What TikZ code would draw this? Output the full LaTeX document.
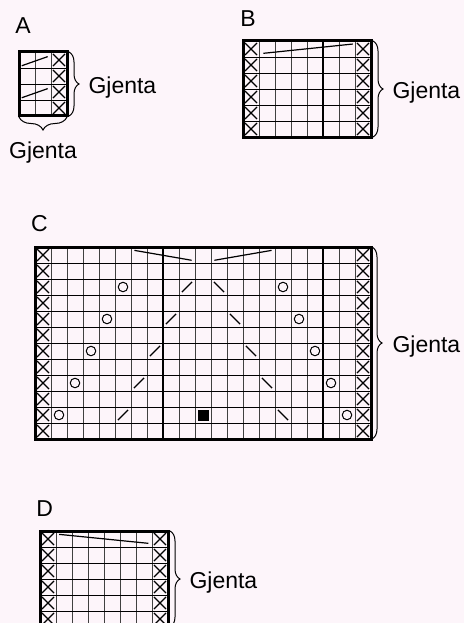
\documentclass[tikz,border=0pt]{standalone}
\usepackage{fontspec}
\setmainfont{Liberation Sans}
\usetikzlibrary{shapes.misc,decorations.pathreplacing}
\definecolor{paper}{RGB}{253,245,250}

\begin{document}
\begin{tikzpicture}
[x=1pt,y=-1pt,
every node/.style={inner sep=0pt,font=\fontsize{23}{27}\selectfont},
colline/.style={black!75,line width=0.9pt},
rowline/.style={black,line width=0.9pt},
repeatline/.style={black,line width=1.7pt},
chartframe/.style={black,line width=3pt},
purl/.style={cross out,draw,line width=1.1pt,minimum size=11pt},
yarnover/.style={circle,draw,line width=1pt,minimum size=9.5pt},
nostitch/.style={rectangle,fill=black,minimum size=11pt},
dec/.style={line width=1.2pt},
cable/.style={line width=1.2pt},
repeatbrace/.style={decorate,decoration={brace,amplitude=10pt,raise=2pt},line width=1pt},
repeattext/.style={anchor=west,xshift=21pt,yshift=-3.6pt}]

\fill[paper] (0,0) rectangle (464,623);
\useasboundingbox (0,0) rectangle (464,623);

% chart titles
\node (labelA) at (23,26) {A};
\node (labelB) at (248,19) {B};
\node (labelC) at (39.5,224) {C};
\node (labelD) at (44.7,509) {D};

% A: 3 x 4
\begin{scope}[shift={(19,52)},x=16pt,y=-16pt]
\foreach \c in {1,2} \draw[colline] (\c,0) -- (\c,4);
\foreach \r in {1,2,3} \draw[rowline] (0,\r) -- (3,\r);
\foreach \r in {0,...,3} \node[purl] (purlA\r) at (2.5,\r+0.5) {};
\draw[cable] (0.17,0.86) -- (1.79,0.29);
\draw[cable] (0.17,2.86) -- (1.79,2.29);
\draw[chartframe] (0,0) rectangle (3,4);
\coordinate (Ane) at (3,0);
\coordinate (Ase) at (3,4);
\coordinate (Asw) at (0,4);
\end{scope}
\draw[repeatbrace] (Ane) -- (Ase) node[midway,repeattext] (gjentaA) {Gjenta};
\draw[repeatbrace,decoration={amplitude=13pt,raise=1pt}] (Ase) -- (Asw)
	node[midway,anchor=north,yshift=-25.5pt] (gjentaAs) {Gjenta};

% B: 8 x 6
\begin{scope}[shift={(243,41)},x=16pt,y=-16pt]
\foreach \c in {1,...,7} \draw[colline] (\c,0) -- (\c,6);
\foreach \r in {1,...,5} \draw[rowline] (0,\r) -- (8,\r);
\draw[repeatline] (5,0) -- (5,6);
\foreach \r in {0,...,5} {
	\node[purl] (purlBl\r) at (0.5,\r+0.5) {};
	\node[purl] (purlBr\r) at (7.5,\r+0.5) {};
}
\draw[cable] (1.27,0.77) -- (6.86,0.19);
\draw[chartframe] (0,0) rectangle (8,6);
\coordinate (Bne) at (8,0);
\coordinate (Bse) at (8,6);
\end{scope}
\draw[repeatbrace] (Bne) -- (Bse) node[midway,repeattext] (gjentaB) {Gjenta};

% C: 21 x 12
\begin{scope}[shift={(35,247)},x=16pt,y=-16pt]
\foreach \c in {1,...,20} \draw[colline] (\c,0) -- (\c,12);
\foreach \r in {1,...,11} \draw[rowline] (0,\r) -- (21,\r);
\draw[repeatline] (8,0) -- (8,12);
\draw[repeatline] (18,0) -- (18,12);
\foreach \r in {0,...,11} {
	\node[purl] (purlCl\r) at (0.5,\r+0.5) {};
	\node[purl] (purlCr\r) at (20.5,\r+0.5) {};
}
\foreach \k [evaluate=\k as \r using {2*\k+2.5}] in {0,...,4} {
	\node[yarnover] (yoL\k) at (5.5-\k,\r) {};
	\node[yarnover] (yoR\k) at (15.5+\k,\r) {};
	\draw[dec] (9.5-\k-0.32,\r+0.32) -- ++(0.64,-0.64);
	\draw[dec] (11.5+\k-0.32,\r-0.32) -- ++(0.64,0.64);
}
\node[nostitch] (nostitchC) at (10.5,10.5) {};
\draw[cable] (6.21,0.21) -- (9.79,0.83);
\draw[cable] (11.21,0.83) -- (14.79,0.21);
\draw[chartframe] (0,0) rectangle (21,12);
\coordinate (Cne) at (21,0);
\coordinate (Cse) at (21,12);
\end{scope}
\draw[repeatbrace,decoration={raise=1pt}] (Cne) -- (Cse) node[midway,repeattext] (gjentaC) {Gjenta};

% D: 8 x 6
\begin{scope}[shift={(40,531)},x=16pt,y=-16pt]
\foreach \c in {1,...,7} \draw[colline] (\c,0) -- (\c,6);
\foreach \r in {1,...,5} \draw[rowline] (0,\r) -- (8,\r);
\foreach \r in {0,...,5} {
	\node[purl] (purlDl\r) at (0.5,\r+0.5) {};
	\node[purl] (purlDr\r) at (7.5,\r+0.5) {};
}
\draw[cable] (1.2,0.21) -- (6.77,0.77);
\draw[chartframe] (0,0) rectangle (8,6);
\coordinate (Dne) at (8,0);
\coordinate (Dse) at (8,6);
\end{scope}
\draw[repeatbrace] (Dne) -- (Dse) node[midway,repeattext] (gjentaD) {Gjenta};

\end{tikzpicture}
\end{document}
